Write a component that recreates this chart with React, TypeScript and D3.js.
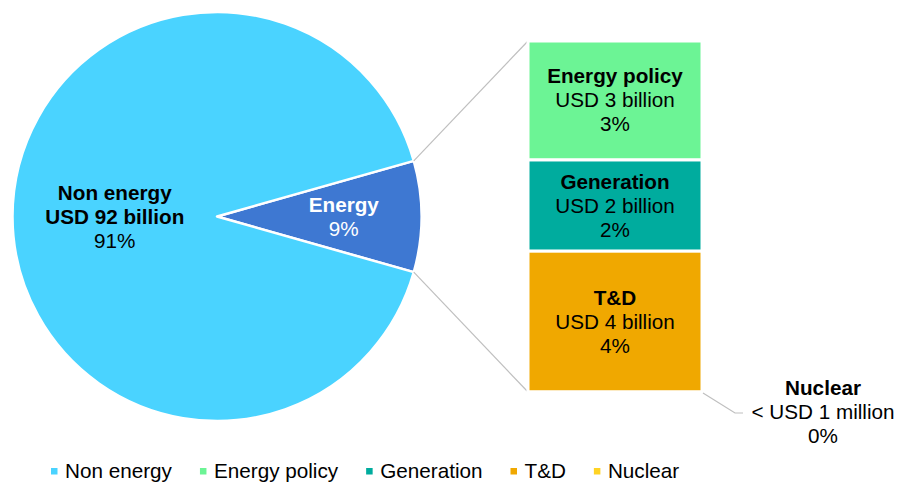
import React, { useEffect, useRef } from "react";
import * as d3 from "d3";

// pie: non energy vs energy (USD billion)
const nonEnergyName = "Non energy";
const nonEnergyValue = 92;
const nonEnergyLabels = ["Non energy", "USD 92 billion", "91%"];
const energyLabels = ["Energy", "9%"];

// energy breakdown, stacked top to bottom (USD billion)
const breakdownNames = ["Energy policy", "Generation", "T&D", "Nuclear"];
const breakdownValues = [3.0, 2.3, 3.55, 0.0005];
const breakdownAmounts = ["USD 3 billion", "USD 2 billion", "USD 4 billion", "< USD 1 million"];
const breakdownPcts = ["3%", "2%", "4%", "0%"];

const legendNames = ["Non energy", "Energy policy", "Generation", "T&D", "Nuclear"];
const colors: Record<string, string> = {
  "Non energy": "#4AD3FF",
  Energy: "#3E78D2",
  "Energy policy": "#6CF495",
  Generation: "#00AC9E",
  "T&D": "#F0A800",
  Nuclear: "#FFD324",
};

const FONT = "'Liberation Sans', Arial, sans-serif";

export default function App() {
  const ref = useRef<SVGSVGElement>(null);

  useEffect(() => {
    const width = 899;
    const height = 484;
    const svg = d3.select(ref.current!);
    svg.selectAll("*").remove();
    svg.attr("width", width).attr("height", height);

    const fontSize = 20.7;
    const lineH = 24;
    const cx = 217;
    const cy = 216.5;
    const radius = 204.5;

    const energyValue = d3.sum(breakdownValues);
    const pieData = [
      { name: "Energy", value: energyValue, labels: energyLabels, lr: 0.62, color: "#fff" },
      { name: nonEnergyName, value: nonEnergyValue, labels: nonEnergyLabels, lr: 0.5, color: "#000" },
    ];
    const frac = energyValue / (energyValue + nonEnergyValue);
    const start = Math.PI / 2 - frac * Math.PI;

    const pie = d3
      .pie<(typeof pieData)[number]>()
      .sort(null)
      .value((d) => d.value)
      .startAngle(start)
      .endAngle(start + 2 * Math.PI);
    const arcs = pie(pieData);
    const arc = d3.arc<d3.PieArcDatum<(typeof pieData)[number]>>().innerRadius(0).outerRadius(radius);

    const g = svg.append("g").attr("transform", `translate(${cx},${cy})`);
    g.selectAll("path")
      .data(arcs)
      .join("path")
      .attr("d", arc)
      .attr("fill", (d) => colors[d.data.name])
      .attr("stroke", "#fff")
      .attr("stroke-width", 2.5)
      .attr("stroke-linejoin", "round");

    arcs.forEach((a) => {
      const la = d3.arc<d3.PieArcDatum<(typeof pieData)[number]>>()
        .innerRadius(radius * a.data.lr)
        .outerRadius(radius * a.data.lr);
      const [px, py] = la.centroid(a);
      const n = a.data.labels.length;
      a.data.labels.forEach((t, i) => {
        const bold = n === 3 ? i < 2 : i < 1;
        g.append("text")
          .attr("x", px)
          .attr("y", py + (i - (n - 1) / 2) * lineH + 7)
          .attr("text-anchor", "middle")
          .attr("font-family", FONT)
          .attr("font-size", fontSize)
          .attr("font-weight", bold ? "bold" : "normal")
          .attr("fill", a.data.color)
          .text(t);
      });
    });

    // stacked bar for the breakdown
    const barX0 = 528;
    const barX1 = 702;
    const y = d3.scaleLinear().domain([0, energyValue]).range([41, 392]);
    const ends = Array.from(d3.cumsum(breakdownValues));
    const segs = breakdownNames.map((name, i) => ({
      name,
      y0: i === 0 ? 0 : ends[i - 1],
      y1: ends[i],
      i,
    }));

    // connectors from energy slice to the bar
    const ea = arcs[0];
    const pt = (ang: number) => [cx + radius * Math.sin(ang), cy - radius * Math.cos(ang)];
    const [tx, ty] = pt(ea.startAngle);
    const [bx, by] = pt(ea.endAngle);
    svg.append("line").attr("x1", tx).attr("y1", ty).attr("x2", barX0).attr("y2", y(0))
      .attr("stroke", "#BFBFBF").attr("stroke-width", 1.2);
    svg.append("line").attr("x1", bx).attr("y1", by).attr("x2", barX0).attr("y2", y(energyValue))
      .attr("stroke", "#BFBFBF").attr("stroke-width", 1.2);

    svg.append("g")
      .selectAll("rect")
      .data(segs)
      .join("rect")
      .attr("x", barX0)
      .attr("y", (d) => y(d.y0))
      .attr("width", barX1 - barX0)
      .attr("height", (d) => y(d.y1) - y(d.y0))
      .attr("fill", (d) => colors[d.name])
      .attr("stroke", "#fff")
      .attr("stroke-width", 3);

    segs.forEach((s) => {
      const lines = [s.name, breakdownAmounts[s.i], breakdownPcts[s.i]];
      let lx = (barX0 + barX1) / 2;
      let ly = (y(s.y0) + y(s.y1)) / 2;
      const small = y(s.y1) - y(s.y0) < 20;
      if (small) {
        // leader line for tiny segment
        const ax = barX1 + 1;
        const ay = y(s.y1) + 1;
        const kx = ax + 32;
        const ky = ay + 20;
        svg.append("polyline")
          .attr("points", `${ax},${ay} ${kx},${ky} ${kx + 8},${ky}`)
          .attr("fill", "none")
          .attr("stroke", "#BFBFBF")
          .attr("stroke-width", 1.2);
        lx = kx + 88;
        ly = ky - 1;
      }
      lines.forEach((t, i) => {
        svg.append("text")
          .attr("x", lx)
          .attr("y", ly + (i - 1) * lineH + 7)
          .attr("text-anchor", "middle")
          .attr("font-family", FONT)
          .attr("font-size", fontSize)
          .attr("font-weight", i === 0 ? "bold" : "normal")
          .attr("fill", "#000")
          .text(t);
      });
    });

    // legend
    const leg = svg.append("g");
    let x = 51;
    legendNames.forEach((name) => {
      leg.append("rect")
        .attr("x", x)
        .attr("y", 468)
        .attr("width", 6.5)
        .attr("height", 6.5)
        .attr("fill", colors[name]);
      const t = leg.append("text")
        .attr("x", x + 14)
        .attr("y", 478)
        .attr("font-family", FONT)
        .attr("font-size", fontSize)
        .attr("fill", "#000")
        .text(name);
      const w = (t.node() as SVGTextElement).getComputedTextLength();
      x += 14 + w + 28;
    });
  }, []);

  return <svg ref={ref} style={{ position: "absolute", left: 0, top: 0 }} />;
}
